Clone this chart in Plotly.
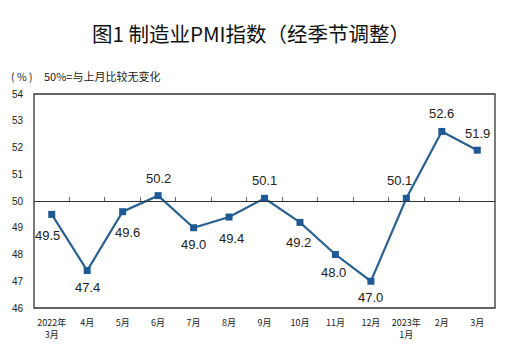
import plotly.graph_objects as go

months = ["2022年<br>3月", "4月", "5月", "6月", "7月", "8月", "9月", "10月", "11月", "12月", "2023年<br>1月", "2月", "3月"]
pmi = [49.5, 47.4, 49.6, 50.2, 49.0, 49.4, 50.1, 49.2, 48.0, 47.0, 50.1, 52.6, 51.9]
label_dx = [-4, 0, 5, 0, 0, 2, 0, -1, -2, 0, -7, 0, 0]
label_dy = [21, 17, 21, -17, 17, 21, -18, 20, 18, 16, -18, -18, -17]
y_ticks = [46, 47, 48, 49, 50, 51, 52, 53, 54]

fig = go.Figure()
fig.add_trace(go.Scatter(
    x=months, y=pmi, mode="lines+markers",
    line=dict(color="#2a6190", width=2.2),
    marker=dict(symbol="square", size=7, color="#1d5a96"),
    hoverinfo="skip", showlegend=False,
))
# dummy trace for 50-line axis
fig.add_trace(go.Scatter(
    x=months, y=pmi, xaxis="x2", mode="lines", line=dict(width=0),
    hoverinfo="skip", showlegend=False, opacity=0,
))

for m, v, dx, dy in zip(months, pmi, label_dx, label_dy):
    fig.add_annotation(x=m, y=v, text=f"{v:.1f}", showarrow=False,
                       xshift=dx, yshift=-dy,
                       font=dict(family="Liberation Sans, Arial", size=13, color="#222"))

fig.add_shape(type="rect", xref="paper", yref="paper", x0=0, x1=1, y0=0, y1=1,
              line=dict(color="#333", width=1.3), layer="above")

fig.add_annotation(xref="paper", yref="paper", x=(251 - 34) / 461, y=(356 - 33 - 48) / 214,
                   xanchor="center", yanchor="middle", showarrow=False,
                   text="图1 制造业PMI指数（经季节调整）",
                   font=dict(family="Noto Sans CJK SC", size=20.5, color="#111"))

fig.add_annotation(xref="paper", yref="paper", x=(9 - 34) / 461, y=(356 - 76 - 48) / 214,
                   xanchor="left", yanchor="middle", showarrow=False,
                   text="( % )",
                   font=dict(family="Noto Sans CJK SC", size=10.5, color="#222"))
fig.add_annotation(xref="paper", yref="paper", x=(42 - 34) / 461, y=(356 - 76 - 48) / 214,
                   xanchor="left", yanchor="middle", showarrow=False,
                   text="50%=与上月比较无变化",
                   font=dict(family="Noto Sans CJK SC", size=11, color="#222"))

fig.update_layout(
    width=514, height=356,
    margin=dict(l=34, r=19, t=94, b=48),
    paper_bgcolor="white", plot_bgcolor="white",
    xaxis=dict(type="category", categoryarray=months, range=[-0.5, 12.5],
               showline=False, showgrid=False, zeroline=False, ticks="",
               tickfont=dict(family="Noto Sans CJK SC", size=9, color="#222"),
               ticklabelstandoff=8, automargin=False),
    xaxis2=dict(type="category", categoryarray=months, range=[-0.5, 12.5],
                overlaying="x", anchor="free", position=0.5,
                showline=True, linecolor="#333", linewidth=1.3,
                ticks="inside", tickson="boundaries", ticklen=4, tickcolor="#666",
                showticklabels=False, showgrid=False, zeroline=False),
    yaxis=dict(range=[46, 54], tickvals=y_ticks, showgrid=False, zeroline=False,
               showline=False, ticks="",
               tickfont=dict(family="Liberation Sans, Arial", size=10, color="#222"),
               ticklabelstandoff=10),
)

fig.write_html("out.html", config={"displayModeBar": False},
               post_script="document.body.style.margin='0';document.body.style.padding='0';")
